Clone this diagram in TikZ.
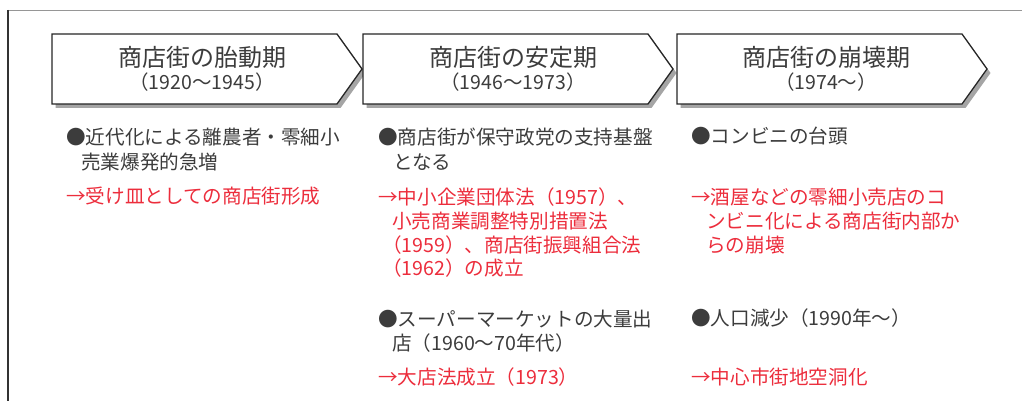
\documentclass[tikz,border=0pt]{standalone}
\usepackage{fontspec}
\setmainfont{Noto Sans CJK JP}
\definecolor{textgray}{RGB}{60,60,60}
\definecolor{redtxt}{RGB}{236,45,60}
\definecolor{shgray}{RGB}{165,165,165}
\definecolor{framegray}{RGB}{150,150,150}
\begin{document}
\begin{tikzpicture}[x=1pt,y=-1pt,
  txtline/.style={inner sep=0pt, anchor=west, text height=17pt, text depth=2.6pt,
    font=\fontsize{19.6}{24}\selectfont},
  blk/.style={txtline, text=textgray},
  redl/.style={txtline, text=redtxt},
  ttl/.style={inner sep=0pt, text=textgray, font=\fontsize{24}{28}\selectfont},
  subttl/.style={inner sep=0pt, text=textgray, font=\fontsize{19.5}{24}\selectfont},
  boxline/.style={draw=black!85, line width=1.3pt, fill=white, line join=miter},
  boxshadow/.style={fill=shgray, draw=none}
]
\useasboundingbox (0,0) rectangle (1022,401);
% frame
\draw[framegray, line width=1.5pt] (8,10.5) -- (1022,10.5);
\draw[black!80, line width=1.8pt] (8,10) -- (8,401);
% chevrons
\foreach \L in {52,363,677}{
  \fill[boxshadow] (\L+3.5,38) -- (\L+288.5,38) -- (\L+313.5,73) -- (\L+288.5,108) -- (\L+3.5,108) -- cycle;
  \draw[boxline] (\L,34) -- (\L+285,34) -- (\L+310,69) -- (\L+285,104) -- (\L,104) -- cycle;
}
\node[ttl] (t1) at (202,57) {商店街の胎動期};
\node[subttl] (s1) at (202,82) {（1920〜1945）};
\node[ttl] (t2) at (513,57) {商店街の安定期};
\node[subttl] (s2) at (513,82) {（1946〜1973）};
\node[ttl] (t3) at (826,57) {商店街の崩壊期};
\node[subttl] (s3) at (826,82) {（1974〜）};
% column 1
\node[blk] (b1a) at (66,137) {●近代化による離農者・零細小};
\node[blk] (b1b) at (81,162) {売業爆発的急増};
\node[redl] (r1a) at (66,196) {→受け皿としての商店街形成};
% column 2
\node[blk] (b2a) at (378,137) {●商店街が保守政党の支持基盤};
\node[blk] (b2b) at (393,162) {となる};
\node[redl] (r2a) at (378,197) {→中小企業団体法（1957）、};
\node[redl] (r2b) at (392,221) {小売商業調整特別措置法};
\node[redl] (r2c) at (382,245) {（1959）、商店街振興組合法};
\node[redl] (r2d) at (382,268) {（1962）の成立};
\node[blk] (b2c) at (378,319) {●スーパーマーケットの大量出};
\node[blk] (b2d) at (392,343) {店（1960〜70年代）};
\node[redl] (r2e) at (378,377) {→大店法成立（1973）};
% column 3
\node[blk] (b3a) at (691,136) {●コンビニの台頭};
\node[redl] (r3a) at (691,197) {→酒屋などの零細小売店のコ};
\node[redl] (r3b) at (706,221) {ンビニ化による商店街内部か};
\node[redl] (r3c) at (706,245) {らの崩壊};
\node[blk] (b3b) at (691,318) {●人口減少（1990年〜）};
\node[redl] (r3d) at (691,377) {→中心市街地空洞化};
\end{tikzpicture}
\end{document}
